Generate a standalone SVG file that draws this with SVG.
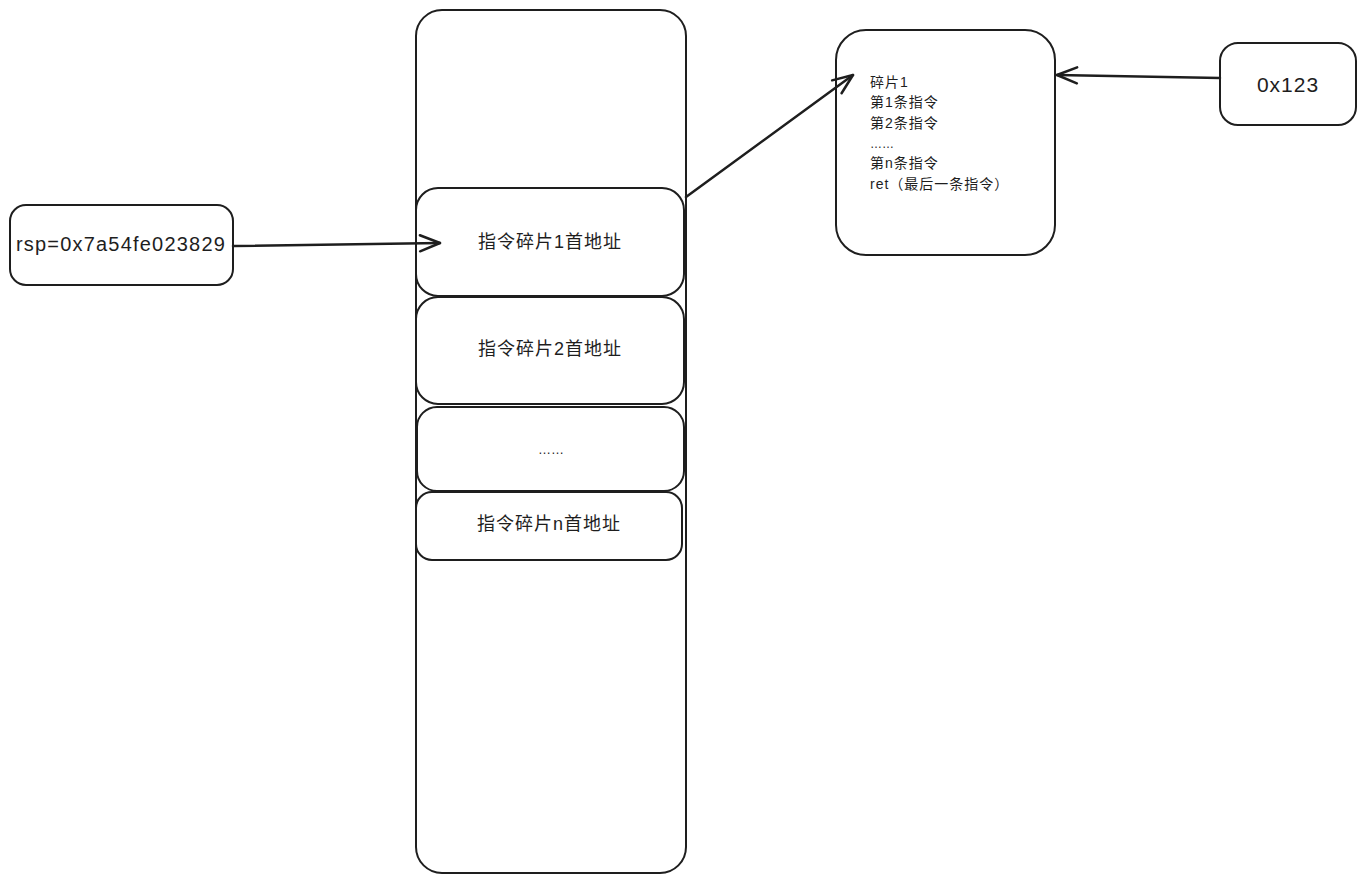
<svg xmlns="http://www.w3.org/2000/svg" width="1367" height="883" viewBox="0 0 1367 883">
<defs>
<style>
.box{fill:#ffffff;stroke:#1e1e1e;stroke-width:2}
.t{font-family:"Liberation Sans","Noto Sans CJK SC",sans-serif;fill:#1e1e1e}
.lbl{font-size:18px;text-anchor:middle;dominant-baseline:central;letter-spacing:1px}
.small{font-size:14px;letter-spacing:1px}
.edge{fill:none;stroke:#1e1e1e;stroke-width:2.5;stroke-linecap:round;stroke-linejoin:round}
</style>
<marker id="arr" markerWidth="24" markerHeight="20" refX="22" refY="10" orient="auto" markerUnits="userSpaceOnUse">
<path d="M2,2 L22,10 L2,18" fill="none" stroke="#1e1e1e" stroke-width="2.5" stroke-linecap="round" stroke-linejoin="round"/>
</marker>
</defs>
<rect width="1367" height="883" fill="#ffffff"/>
<g id="stack">
<rect class="box" x="416" y="10" width="270" height="863" rx="26"/>
</g>
<g id="frag1">
<rect class="box" x="416" y="188" width="268" height="108" rx="22"/>
<text class="t lbl" x="550" y="242">指令碎片1首地址</text>
</g>
<g id="frag2">
<rect class="box" x="416" y="297" width="268" height="107" rx="22"/>
<text class="t lbl" x="550" y="349">指令碎片2首地址</text>
</g>
<g id="fragdots">
<rect class="box" x="417" y="407" width="267" height="84" rx="20"/>
<text class="t lbl" x="551" y="449" style="font-size:13px;letter-spacing:0">……</text>
</g>
<g id="fragn">
<rect class="box" x="416" y="492" width="266" height="68" rx="16"/>
<text class="t lbl" x="549" y="524">指令碎片n首地址</text>
</g>
<g id="rsp">
<rect class="box" x="10" y="205" width="223" height="80" rx="16"/>
<text class="t lbl" x="121" y="244" style="font-size:20px;letter-spacing:1.2px">rsp=0x7a54fe023829</text>
</g>
<g id="fragment">
<rect class="box" x="836" y="30" width="219" height="225" rx="30"/>
<text class="t small" x="870" y="87">碎片1</text>
<text class="t small" x="870" y="107">第1条指令</text>
<text class="t small" x="870" y="128">第2条指令</text>
<text class="t small" x="870" y="148" style="font-size:12px;letter-spacing:0">……</text>
<text class="t small" x="870" y="168">第n条指令</text>
<text class="t small" x="870" y="189">ret（最后一条指令）</text>
</g>
<g id="addr">
<rect class="box" x="1220" y="43" width="136" height="82" rx="18"/>
<text class="t lbl" x="1288" y="84" style="font-size:21px">0x123</text>
</g>
<g id="connectors">
<path class="edge" d="M233,246 L440,243" marker-end="url(#arr)"/>
<path class="edge" d="M686,197 L853,75" marker-end="url(#arr)"/>
<path class="edge" d="M1220,78 L1057,75" marker-end="url(#arr)"/>
</g>
</svg>
